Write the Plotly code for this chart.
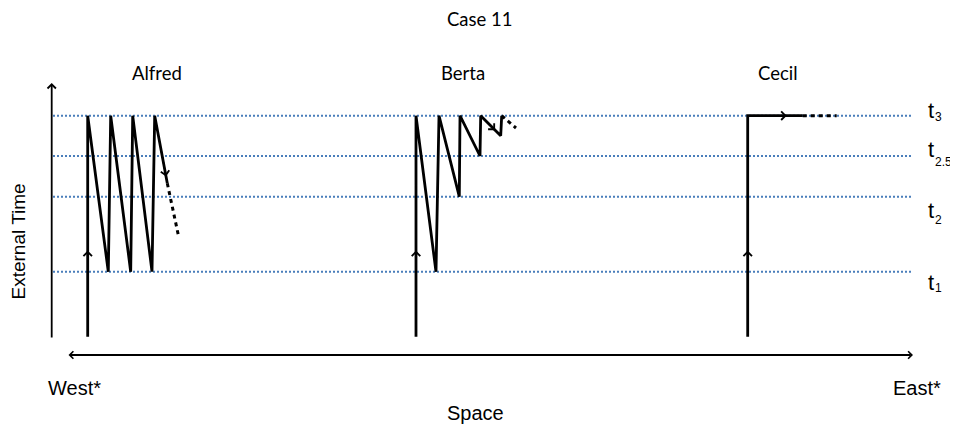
import math
import plotly.graph_objects as go

# ---- data (space units horizontally, time units vertically) ----
time_levels = {"t1": 153.3, "t2": 228.3, "t2.5": 269.0, "t3": 309.3}
level_names = ["t3", "t2.5", "t2", "t1"]
level_main = ["t", "t", "t", "t"]
level_sub = ["3", "2.5", "2", "1"]
level_main_y = [315.0, 276.0, 215.0, 142.5]
level_sub_y = [308.0, 263.0, 205.0, 137.0]
t_start = 88.3
t_mid_berta = 289.2

people = ["Alfred", "Berta", "Cecil"]
people_label_x = [157, 463, 778]
people_label_y = 352

alfred_x = [87.7, 87.7, 108.3, 110.7, 130.7, 132.7, 152.0, 154.7, 167.3]
alfred_y = [t_start, 309.3, 153.3, 309.3, 153.3, 309.3, 153.3, 309.3, 241.7]
alfred_dot_x = [167.3, 178.3]
alfred_dot_y = [241.7, 190.0]

berta_x = [416.0, 416.0, 436.0, 439.0, 459.3, 460.0, 480.0, 480.7, 500.7, 501.7]
berta_y = [t_start, 309.3, 153.3, 309.3, 228.3, 309.3, 269.0, 309.3, t_mid_berta, 309.3]
berta_dot_x = [501.7, 516.0]
berta_dot_y = [309.3, 297.0]

cecil_x = [747.7, 747.7, 802.7]
cecil_y = [t_start, 309.3, 309.3]
cecil_dot_x = [802.7, 836.7]
cecil_dot_y = [309.3, 309.3]

# arrow marks on paths: (path, segment index, fraction along segment)
path_arrows = [("alfred", 0, 0.39), ("alfred", 7, 0.9),
               ("berta", 0, 0.39), ("berta", 7, 0.72),
               ("cecil", 0, 0.39), ("cecil", 1, 0.71)]

space_axis_x = [68, 913]
space_axis_y = 70
time_axis_x = 51.7
time_axis_y = [87, 342]
grid_x = [53, 913]

# ---- figure ----
BLACK = "#000000"
BLUE = "#4A7EBB"
ARIAL = "Liberation Sans, Arial, sans-serif"
CALIBRI = "Lato, Carlito, Calibri, sans-serif"

fig = go.Figure()

for name in level_names:
    v = time_levels[name]
    fig.add_trace(go.Scatter(x=grid_x, y=[v, v], mode="lines",
                             line=dict(color=BLUE, width=2, dash="2px,2px"),
                             hoverinfo="skip"))

paths = {"alfred": (alfred_x, alfred_y), "berta": (berta_x, berta_y), "cecil": (cecil_x, cecil_y)}
dots = [(alfred_dot_x, alfred_dot_y), (berta_dot_x, berta_dot_y), (cecil_dot_x, cecil_dot_y)]

for xs, ys in paths.values():
    fig.add_trace(go.Scatter(x=xs, y=ys, mode="lines",
                             line=dict(color=BLACK, width=2.8), hoverinfo="skip"))
for xs, ys in dots:
    fig.add_trace(go.Scatter(x=xs, y=ys, mode="lines",
                             line=dict(color=BLACK, width=3, dash="4px,4px"), hoverinfo="skip"))

annotations = []
TAIL = 30.0  # tail length of the arrow annotation behind its head, along the path
for pname, seg, frac in path_arrows:
    xs, ys = paths[pname]
    x0, y0, x1, y1 = xs[seg], ys[seg], xs[seg + 1], ys[seg + 1]
    seg_len = math.hypot(x1 - x0, y1 - y0)
    hx, hy = x0 + (x1 - x0) * frac, y0 + (y1 - y0) * frac
    back = min(frac, TAIL / seg_len)
    tx, ty = x0 + (x1 - x0) * (frac - back), y0 + (y1 - y0) * (frac - back)
    annotations.append(dict(x=hx, y=hy, ax=tx, ay=ty, xref="x", yref="y", axref="x", ayref="y",
                            text="", showarrow=True, arrowhead=4, arrowsize=1.1,
                            arrowwidth=1.5, arrowcolor=BLACK, borderpad=0,
                            font=dict(size=1)))

# axes arrows
annotations.append(dict(x=space_axis_x[1], y=space_axis_y, ax=space_axis_x[0], ay=space_axis_y,
                        xref="x", yref="y", axref="x", ayref="y", text="", showarrow=True,
                        arrowhead=4, startarrowhead=4, arrowside="end+start",
                        arrowsize=0.8, startarrowsize=0.8, arrowwidth=1.8, arrowcolor=BLACK,
                        borderpad=0, font=dict(size=1)))
annotations.append(dict(x=time_axis_x, y=time_axis_y[1], ax=time_axis_x, ay=time_axis_y[0],
                        xref="x", yref="y", axref="x", ayref="y", text="", showarrow=True,
                        arrowhead=4, arrowsize=0.9, arrowwidth=1.8, arrowcolor=BLACK,
                        borderpad=0, font=dict(size=1)))

# texts
for name, lx in zip(people, people_label_x):
    annotations.append(dict(x=lx, y=people_label_y, xref="x", yref="y", text=name, showarrow=False,
                            font=dict(family=CALIBRI, size=18.5, color=BLACK)))
for main, sub, my, sy in zip(level_main, level_sub, level_main_y, level_sub_y):
    annotations.append(dict(x=927, y=my, xref="x", yref="y", text=main, showarrow=False,
                            xanchor="left", borderpad=0,
                            font=dict(family=ARIAL, size=22, color=BLACK)))
    annotations.append(dict(x=933.5, y=sy, xref="x", yref="y", text=sub, showarrow=False,
                            xanchor="left", borderpad=0,
                            font=dict(family=ARIAL, size=12, color=BLACK)))

annotations.append(dict(x=480, y=406.5, xref="x", yref="y", text="Case 11", showarrow=False,
                        borderpad=0, font=dict(family=CALIBRI, size=18.5, color=BLACK)))
annotations.append(dict(x=17.5, y=183, xref="x", yref="y", text="External Time", showarrow=False,
                        textangle=-90, font=dict(family=ARIAL, size=19, color=BLACK)))
annotations.append(dict(x=74, y=37, xref="x", yref="y", text="West*", showarrow=False,
                        font=dict(family=ARIAL, size=20, color=BLACK)))
annotations.append(dict(x=917, y=37, xref="x", yref="y", text="East*", showarrow=False,
                        font=dict(family=ARIAL, size=20, color=BLACK)))
annotations.append(dict(x=475, y=12.3, xref="x", yref="y", text="Space", showarrow=False,
                        font=dict(family=ARIAL, size=20, color=BLACK)))

# the page shows the figure offset by the default 8px body margin
fig.update_layout(
    width=950, height=417,
    margin=dict(l=0, r=0, t=0, b=0),
    paper_bgcolor="white", plot_bgcolor="white",
    showlegend=False,
    xaxis=dict(range=[8, 958], visible=False, fixedrange=True),
    yaxis=dict(range=[0, 417], visible=False, fixedrange=True),
    annotations=annotations,
)

fig.write_html("out.html")
